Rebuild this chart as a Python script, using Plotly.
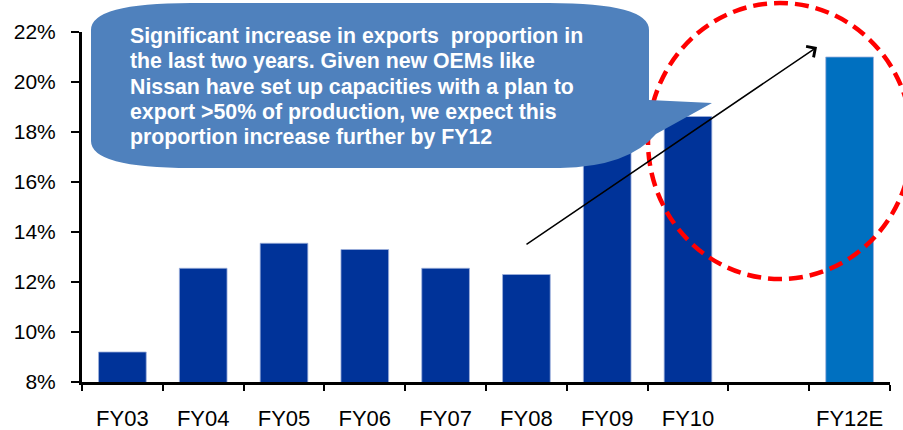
import plotly.graph_objects as go

# Export share of production by fiscal year (%)
categories = ["FY03", "FY04", "FY05", "FY06", "FY07", "FY08", "FY09", "FY10", " ", "FY12E"]
export_share = [9.2, 12.55, 13.55, 13.3, 12.55, 12.3, 17.9, 18.62, None, 21.0]
bar_colors = ["#003399"] * 8 + ["#003399", "#0070C0"]

y_ticks = [8, 10, 12, 14, 16, 18, 20, 22]
y_tick_text = [f"{v}%" for v in y_ticks]

callout_lines = [
    "Significant increase in exports\u00a0 proportion in",
    "the last two years. Given new OEMs like",
    "Nissan have set up capacities with a plan to",
    "export >50% of production, we expect this",
    "proportion increase further by FY12",
]

W, H = 903, 430
ML, MR, MT, MB = 82, 13, 32, 48
PW, PH = W - ML - MR, H - MT - MB


def px(x):
    return (x - ML) / PW


def py(y):
    return (H - MB - y) / PH


def path(cmds):
    out = []
    for c in cmds:
        if isinstance(c, str):
            out.append(c)
        else:
            out.append(f"{px(c[0]):.5f},{py(c[1]):.5f}")
    return " ".join(out)


fig = go.Figure()
fig.add_trace(go.Bar(
    x=categories,
    y=export_share,
    marker=dict(color=bar_colors, line=dict(color="#9DB0DC", width=0.8)),
    width=0.59,
    hoverinfo="skip",
))

# Speech-bubble callout with a wedge pointing right
bubble = path([
    "M", (191, 3), "L", (549, 3), "Q", (649, 3), (649, 30),
    "L", (649, 100), "L", (712, 103), "L", (656, 134),
    "Q", (628, 167), (560, 168),
    "L", (191, 168), "Q", (91, 168), (91, 141),
    "L", (91, 30), "Q", (91, 3), (191, 3), "Z",
])

shapes = [
    dict(type="circle", xref="paper", yref="paper",
         x0=px(648), x1=px(912), y0=py(279), y1=py(3),
         line=dict(color="#FF0000", width=4.5, dash="14px,7px"),
         layer="above"),
    dict(type="path", xref="paper", yref="paper", path=bubble,
         fillcolor="#4F81BD", line=dict(width=0), layer="above"),
]

annotations = []
for i, line in enumerate(callout_lines):
    annotations.append(dict(
        xref="paper", yref="paper", x=px(128), y=py(36 + 25.3 * i),
        xanchor="left", yanchor="middle", showarrow=False,
        text=f"<b>{line}</b>",
        font=dict(family="Arial, Liberation Sans", size=21.3, color="white"),
        align="left",
    ))

# Trend arrow toward the FY12 estimate
head_x, head_y = 817, 47
tail_x, tail_y = 525, 245.5
annotations.append(dict(
    xref="paper", yref="paper", axref="pixel", ayref="pixel",
    x=px(head_x), y=py(head_y), ax=tail_x - head_x, ay=tail_y - head_y,
    text="", showarrow=True, arrowhead=4, arrowsize=1.7,
    arrowwidth=1.5, arrowcolor="black", standoff=0, startstandoff=0,
))

fig.update_layout(
    width=W, height=H,
    margin=dict(l=ML, r=MR, t=MT, b=MB, pad=0),
    paper_bgcolor="white", plot_bgcolor="white",
    showlegend=False,
    shapes=shapes,
    annotations=annotations,
    font=dict(family="Arial, Liberation Sans", color="black"),
    xaxis=dict(
        type="category", categoryorder="array", categoryarray=categories,
        range=[-0.5, len(categories) - 0.5], automargin=False,
        showline=True, linecolor="black", linewidth=3,
        ticks="outside", tickson="boundaries", ticklen=6, tickwidth=2,
        tickcolor="black", showgrid=False, zeroline=False,
        tickfont=dict(size=22), ticklabelstandoff=15,
    ),
    yaxis=dict(
        range=[8, 22], tickvals=y_ticks, ticktext=y_tick_text,
        automargin=False,
        showline=True, linecolor="black", linewidth=3,
        ticks="outside", ticklen=8, tickwidth=2, tickcolor="black",
        showgrid=False, zeroline=False,
        tickfont=dict(size=21), ticklabelstandoff=11,
    ),
)

fig.write_html("out.html")
